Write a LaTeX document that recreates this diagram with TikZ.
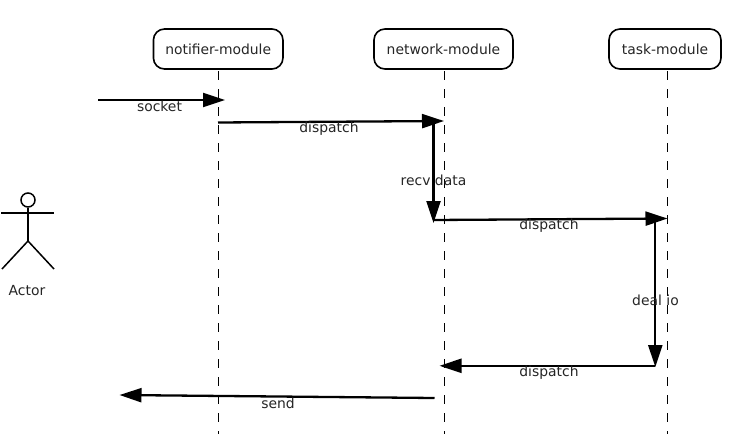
\documentclass[tikz,border=0pt]{standalone}
\usepackage{fontspec}
\setmainfont{DejaVu Sans}
\usetikzlibrary{arrows.meta}
\tikzset{
  x=1pt,y=-1pt,
  modulebox/.style={draw=black,line width=1.6pt,rounded corners=11pt,fill=white,minimum height=40pt,inner sep=0pt,font=\fontsize{13.9}{16}\selectfont,text=black!85},
  lifeline/.style={draw=black,line width=1pt,dash pattern=on 9pt off 9pt},
  msg/.style={draw=black,line width=2.3pt,-{Triangle[length=22pt,width=14pt]},shorten >=0pt},
  msglabel/.style={inner sep=0pt,font=\fontsize{13.9}{16}\selectfont,text=black!85},
  actorline/.style={draw=black,line width=1.5pt}
}
\begin{document}
\begin{tikzpicture}
\useasboundingbox (0,0) rectangle (744,434);
\fill[white] (0,0) rectangle (744,434);
% lifelines' free ends
\coordinate (endA) at (218,434);
\coordinate (endB) at (444.5,434);
\coordinate (endC) at (667.5,434);
% modules
\node[modulebox,minimum width=129.5pt] (notifier) at (218.2,49) {notifier-module};
\node[modulebox,minimum width=139pt] (network) at (443.5,49) {network-module};
\node[modulebox,minimum width=112pt] (task) at (665,49) {task-module};
\draw[lifeline] (218,71) -- (endA);
\draw[lifeline] (444.5,71) -- (endB);
\draw[lifeline] (667.5,71) -- (endC);
% message end points
\coordinate (s0) at (98,100);
\coordinate (s1) at (225,100);
\coordinate (d1a) at (218,122.5);
\coordinate (d1b) at (444,121);
\coordinate (r0) at (433.5,121);
\coordinate (r1) at (433.5,223);
\coordinate (d2a) at (433.5,220);
\coordinate (d2b) at (667.5,218.5);
\coordinate (i0) at (655.3,218.5);
\coordinate (i1) at (655.3,367);
\coordinate (d3a) at (655.3,365.8);
\coordinate (d3b) at (439.5,365.8);
\coordinate (sa) at (434.5,398);
\coordinate (sb) at (119.5,395);
% messages
\draw[msg] (s0) -- (s1);
\draw[msg] (d1a) -- (d1b);
\draw[msg] (r0) -- (r1);
\draw[msg] (d2a) -- (d2b);
\draw[msg] (i0) -- (i1);
\draw[msg] (d3a) -- (d3b);
\draw[msg] (sa) -- (sb);
% labels
\node[msglabel] (lsocket) at (159.5,106.5) {socket};
\node[msglabel] (ld1) at (329,128.5) {dispatch};
\node[msglabel] (lrecv) at (433.5,180) {recv data};
\node[msglabel] (ld2) at (549,226) {dispatch};
\node[msglabel] (ldeal) at (655.5,300) {deal io};
\node[msglabel] (ld3) at (549,372.5) {dispatch};
\node[msglabel] (lsend) at (278,403.5) {send};
% actor
\node[draw=black,line width=1.5pt,circle,minimum size=14pt,inner sep=0pt] (head) at (28,200) {};
\coordinate (hip) at (28,241);
\coordinate (armL) at (1,213);
\coordinate (armR) at (54,213);
\coordinate (legL) at (2,269);
\coordinate (legR) at (54,269);
\draw[actorline] (head.south) -- (hip);
\draw[actorline] (armL) -- (armR);
\draw[actorline] (legL) -- (hip) -- (legR);
\node[msglabel] (actor) at (27,290.5) {Actor};
\end{tikzpicture}
\end{document}
